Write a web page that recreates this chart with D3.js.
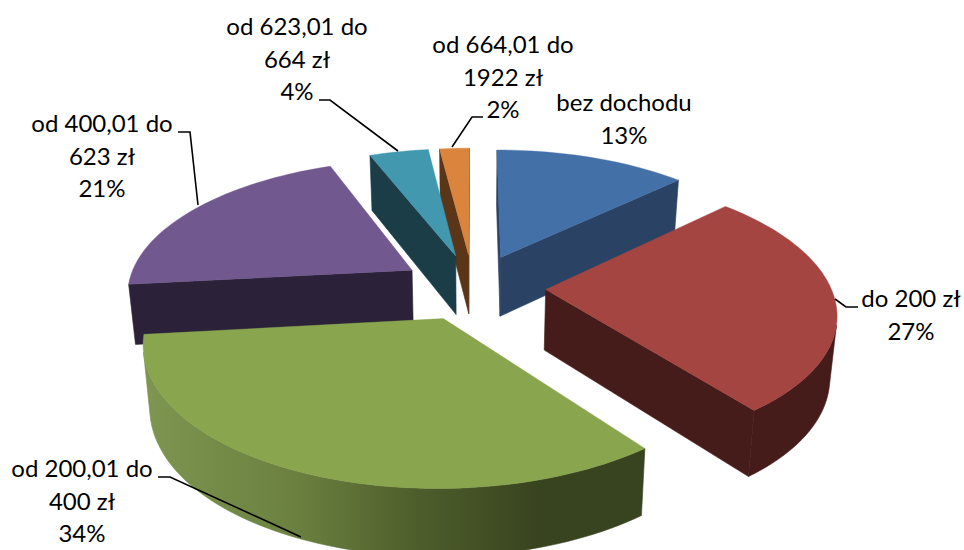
<!DOCTYPE html>
<html>
<head>
<meta charset="utf-8">
<script src="https://cdn.jsdelivr.net/npm/d3@7"></script>
<style>
    html, body { margin: 0; padding: 0; background: #fff; }
    text { font-family: Lato, "Open Sans", sans-serif; font-size: 24px; fill: #000; text-anchor: middle; }
</style>
</head>
<body>
<div id="chart"></div>
<script>
const categories = ['bez dochodu', 'do 200 zł', 'od 200,01 do 400 zł', 'od 400,01 do 623 zł', 'od 623,01 do 664 zł', 'od 664,01 do 1922 zł'];
const shares = [13, 27, 34, 21, 4, 2];

const topColors = ['#4470a8', '#a54542', '#89a54e', '#71588f', '#4198af', '#db843d'];
const wallColors = ['#2a4365', '#451c1a', '#38431f', '#2b2138', '#1a3d48', '#5a3517'];

// text lines and leader lines, in pixels, one row per slice
const labelLines = [
    ['bez dochodu', '13%'],
    ['do 200 zł', '27%'],
    ['od 200,01 do', '400 zł', '34%'],
    ['od 400,01 do', '623 zł', '21%'],
    ['od 623,01 do', '664 zł', '4%'],
    ['od 664,01 do', '1922 zł', '2%']
];
const labelPos = [[624, 111], [911, 307], [82, 477], [102, 132], [297, 35], [503, 53]];
const leaders = [
    null,
    [[835, 299], [846, 307], [858, 307]],
    [[158, 477], [170, 477], [301, 537]],
    [[178, 132], [190, 132], [198, 205]],
    [[319, 100], [330, 100], [398, 151]],
    [[483, 117], [472, 117], [452, 147]]
];

const W = 964, H = 550;
const CX = 473, CY = 287;
const RX = 285, RY = 132.6;
const PERSP = 0.155;    // how much the far side shrinks
const EXPLODE_X = 0.255, EXPLODE_Y = 0.25;
const BOTTOM_SHRINK = 0.98;

const wallHeight = d3.scaleLinear().domain([-1.2, -0.8, 0.25, 1.2]).range([68, 66, 58.5, 55]);

const svg = d3.select('#chart')
    .append('svg')
    .attr('width', W)
    .attr('height', H);

const grad = svg.append('defs')
    .append('linearGradient')
    .attr('id', 'greenWall')
    .attr('gradientUnits', 'userSpaceOnUse')
    .attr('x1', 143).attr('x2', 640)
    .attr('y1', 0).attr('y2', 0);
[[0, '#7d9650'], [0.3, '#6c8140'], [0.55, '#4e5e2b'], [0.8, '#38431f'], [1, '#38431f']].forEach((s) => {
    grad.append('stop').attr('offset', s[0]).attr('stop-color', s[1]);
});

// disc coords (x right, y away from viewer) to the screen, top or bottom plane
function project(x, y, bottom) {
    const s = 1 / (1 + PERSP * y);
    if (!bottom) return [CX + RX * x * s, CY - RY * y * s];
    return [CX + RX * x * s * BOTTOM_SHRINK, CY - RY * y * s + wallHeight(y)];
}

const line = d3.line();

const pie = d3.pie().sort(null)(shares);

const slices = pie.map((p, i) => {
    const mid = (p.startAngle + p.endAngle) / 2;
    const ox = EXPLODE_X * Math.sin(mid), oy = EXPLODE_Y * Math.cos(mid);
    const steps = Math.max(4, Math.ceil((p.endAngle - p.startAngle) / 0.03));
    const rim = d3.range(steps + 1).map((k) => {
        const a = p.startAngle + (p.endAngle - p.startAngle) * k / steps;
        return [ox + Math.sin(a), oy + Math.cos(a)];
    });
    return {i, oy, apex: [ox, oy], rim};
});

function sidePath(a, b) {
    return [project(a[0], a[1]), project(b[0], b[1]), project(b[0], b[1], true), project(a[0], a[1], true)];
}

// back slices first, each slice is convex so culling the hidden faces is enough
const order = slices.slice().sort((a, b) => b.oy - a.oy);

order.forEach((sl) => {
    const g = svg.append('g').attr('class', 'slice-' + sl.i);
    const wallFill = sl.i === 2 ? 'url(#greenWall)' : wallColors[sl.i];
    const last = sl.rim[sl.rim.length - 1];

    const faces = [sidePath(sl.rim[0], sl.apex), sidePath(sl.apex, last)]
        .filter((f) => d3.polygonArea(f) < 0);

    // the visible part of the rim goes in one piece, so no seams show
    const seen = d3.pairs(sl.rim).filter((pair) => d3.polygonArea(sidePath(pair[1], pair[0])) < 0);
    if (seen.length) {
        const run = [seen[0][0], ...seen.map((pair) => pair[1])];
        const upper = run.map((q) => project(q[0], q[1]));
        const lower = run.map((q) => project(q[0], q[1], true)).reverse();
        faces.push([...upper, ...lower]);
    }

    faces.forEach((f) => {
        g.append('path')
            .attr('d', line(f) + 'Z')
            .attr('fill', wallFill)
            .attr('stroke', wallFill)
            .attr('stroke-width', 0.6);
    });

    const top = [sl.apex, ...sl.rim].map((q) => project(q[0], q[1]));
    g.append('path')
        .attr('d', line(top) + 'Z')
        .attr('fill', topColors[sl.i])
        .attr('stroke', topColors[sl.i])
        .attr('stroke-width', 0.4);
});

svg.append('g')
    .selectAll('path')
    .data(leaders.filter((d) => d))
    .join('path')
    .attr('d', (d) => line(d))
    .attr('fill', 'none')
    .attr('stroke', '#000')
    .attr('stroke-width', 1.6);

const LINE_GAP = 32.5;
const labels = svg.append('g')
    .selectAll('text')
    .data(categories)
    .join('text')
    .attr('x', (_d, i) => labelPos[i][0])
    .attr('y', (_d, i) => labelPos[i][1]);

labels.selectAll('tspan')
    .data((_d, i) => labelLines[i].map((t, k) => ({t, k, i})))
    .join('tspan')
    .attr('x', (d) => labelPos[d.i][0])
    .attr('y', (d) => labelPos[d.i][1] + d.k * LINE_GAP)
    .text((d) => d.t);
</script>
</body>
</html>
